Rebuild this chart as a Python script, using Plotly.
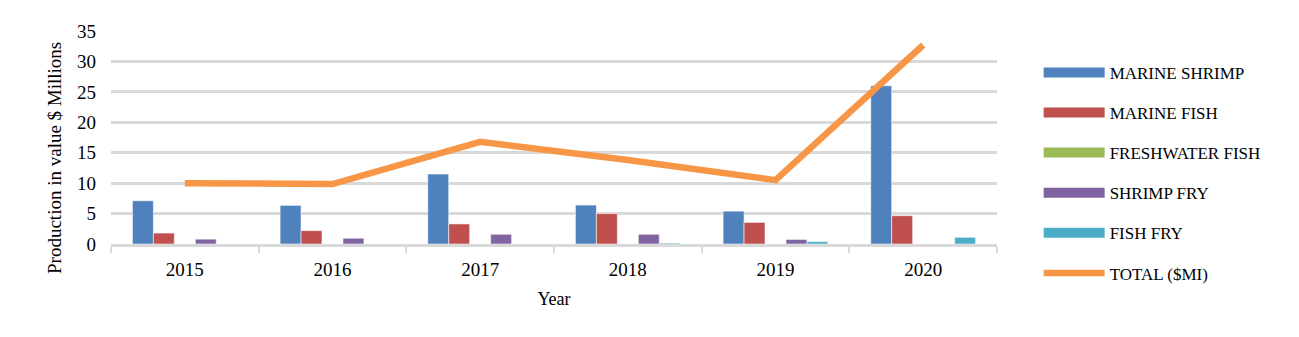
import plotly.graph_objects as go

years = ["2015", "2016", "2017", "2018", "2019", "2020"]
marine_shrimp = [7.1, 6.35, 11.5, 6.4, 5.4, 26.0]
marine_fish = [1.8, 2.2, 3.3, 5.0, 3.55, 4.65]
freshwater_fish = [0, 0, 0, 0, 0, 0]
shrimp_fry = [0.8, 0.95, 1.6, 1.6, 0.75, 0]
fish_fry = [0, 0, 0, 0.15, 0.4, 1.1]
total = [10.0, 9.85, 16.8, 13.8, 10.5, 32.7]
y_ticks = [0, 5, 10, 15, 20, 25, 30, 35]

series = [
    ("MARINE SHRIMP", marine_shrimp, "#4F81BD"),
    ("MARINE FISH", marine_fish, "#C0504D"),
    ("FRESHWATER FISH", freshwater_fish, "#9BBB59"),
    ("SHRIMP FRY", shrimp_fry, "#8064A2"),
    ("FISH FRY", fish_fry, "#4BACC6"),
]

font_family = "Liberation Serif, Times New Roman, serif"
fig = go.Figure()
for name, vals, col in series:
    fig.add_trace(go.Bar(
        x=years, y=vals, name=name, marker=dict(color=col, line=dict(color="rgba(255,255,255,0.7)", width=0.8)),
        legendgroup=name, showlegend=False,
    ))
    fig.add_trace(go.Scatter(
        x=[None], y=[None], mode="lines", name=name, legendgroup=name,
        line=dict(color=col, width=11), showlegend=True,
    ))
fig.add_trace(go.Scatter(
    x=years, y=total, mode="lines", name="TOTAL ($MI)", legendgroup="TOTAL",
    line=dict(color="#F79646", width=6.5),
))

fig.add_annotation(
    text="Production in value $ Millions", textangle=-90,
    xref="paper", yref="paper", x=-0.0632, y=0.404,
    xanchor="center", yanchor="middle", showarrow=False,
    font=dict(size=19, family=font_family, color="#000000"),
)

fig.update_layout(
    width=1299, height=337,
    margin=dict(l=111, r=302, t=31, b=93),
    paper_bgcolor="white", plot_bgcolor="white",
    barmode="group", bargap=0.29, bargroupgap=0,
    font=dict(family=font_family, color="#000000"),
    legend=dict(
        x=1.047, xanchor="left", y=0.888, yanchor="top",
        font=dict(size=17, family=font_family),
        itemwidth=61, tracegroupgap=15, traceorder="grouped",
        bgcolor="rgba(0,0,0,0)", maxheight=1000,
    ),
    xaxis=dict(
        title=dict(text="Year", font=dict(size=18), standoff=14),
        tickfont=dict(size=19),
        showgrid=False, showline=True, linecolor="#d9d9d9", linewidth=3,
        ticks="outside", tickson="boundaries", ticklen=6, tickwidth=2, tickcolor="#d9d9d9",
        ticklabelstandoff=6,
    ),
    yaxis=dict(
        tickfont=dict(size=19),
        range=[0, 35], tickvals=y_ticks,
        showgrid=True, gridcolor="#d9d9d9", gridwidth=3,
        zeroline=False, showline=False, ticks="", ticklabelstandoff=14,
    ),
)

fig.write_html("out.html")
